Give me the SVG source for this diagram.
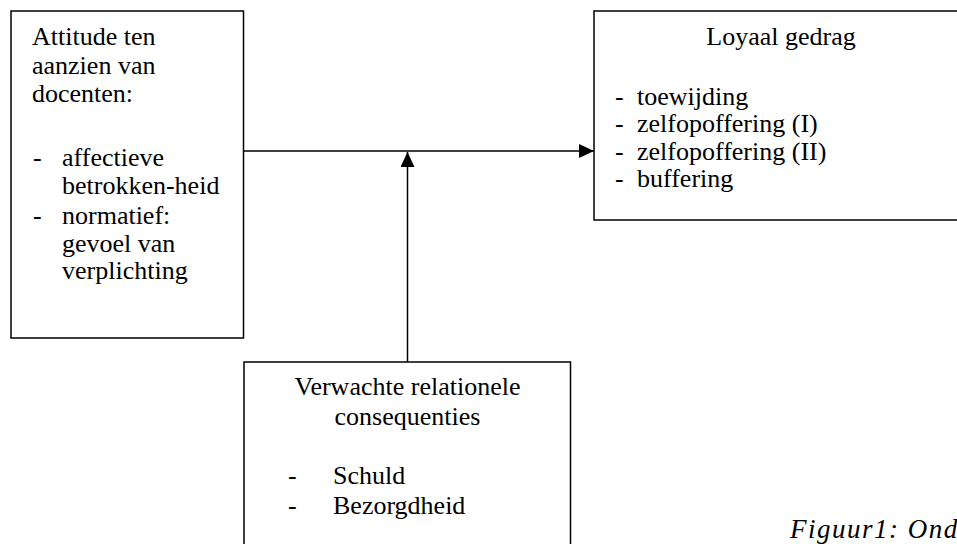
<svg xmlns="http://www.w3.org/2000/svg" width="957" height="544" viewBox="0 0 957 544">
<style>
.box{fill:#fff;stroke:#000;stroke-width:1.5}
.t{font-family:'Liberation Serif','Tinos','Times New Roman','Noto Serif','DejaVu Serif',serif;font-size:26px;fill:#000}
.c{text-anchor:middle}
.line{stroke:#000;stroke-width:1.5;fill:none}
.cap{font-family:'Liberation Serif','Tinos','Times New Roman','Noto Serif','DejaVu Serif',serif;font-size:27px;font-style:italic;letter-spacing:1.5px;fill:#000}
</style>
<defs>
<marker id="arr" markerWidth="15" markerHeight="14" refX="15" refY="7" orient="auto" markerUnits="userSpaceOnUse">
<path d="M0,0 L15,7 L0,14 Z" fill="#000"/>
</marker>
</defs>
<rect width="957" height="544" fill="#fff"/>
<g id="connectors">
<line class="line" x1="244" y1="151" x2="594" y2="151" marker-end="url(#arr)"/>
<line class="line" x1="407.5" y1="362" x2="407.5" y2="152" marker-end="url(#arr)"/>
</g>
<g id="attitude">
<rect class="box" x="11" y="11" width="232.5" height="327"/>
<text class="t" x="32" y="45">Attitude ten</text>
<text class="t" x="32" y="74">aanzien van</text>
<text class="t" x="32" y="102">docenten:</text>
<text class="t" x="33" y="166">-</text>
<text class="t" x="62" y="166">affectieve</text>
<text class="t" x="62" y="194">betrokken-heid</text>
<text class="t" x="33" y="224">-</text>
<text class="t" x="62" y="224">normatief:</text>
<text class="t" x="62" y="252">gevoel van</text>
<text class="t" x="62" y="279">verplichting</text>
</g>
<g id="loyaal">
<rect class="box" x="594" y="11" width="380" height="209"/>
<text class="t c" x="781" y="45">Loyaal gedrag</text>
<text class="t" x="615" y="105">-</text>
<text class="t" x="637" y="105">toewijding</text>
<text class="t" x="615" y="132">-</text>
<text class="t" x="637" y="132">zelfopoffering (I)</text>
<text class="t" x="615" y="160">-</text>
<text class="t" x="637" y="160">zelfopoffering (II)</text>
<text class="t" x="615" y="187">-</text>
<text class="t" x="637" y="187">buffering</text>
</g>
<g id="verwachte">
<rect class="box" x="244" y="362" width="326.5" height="200"/>
<text class="t c" x="407.5" y="395">Verwachte relationele</text>
<text class="t c" x="407.5" y="425">consequenties</text>
<text class="t" x="288" y="484">-</text>
<text class="t" x="333" y="484">Schuld</text>
<text class="t" x="288" y="514">-</text>
<text class="t" x="333" y="514">Bezorgdheid</text>
</g>
<text class="cap" x="790" y="538">Figuur1: Ond</text>
</svg>
